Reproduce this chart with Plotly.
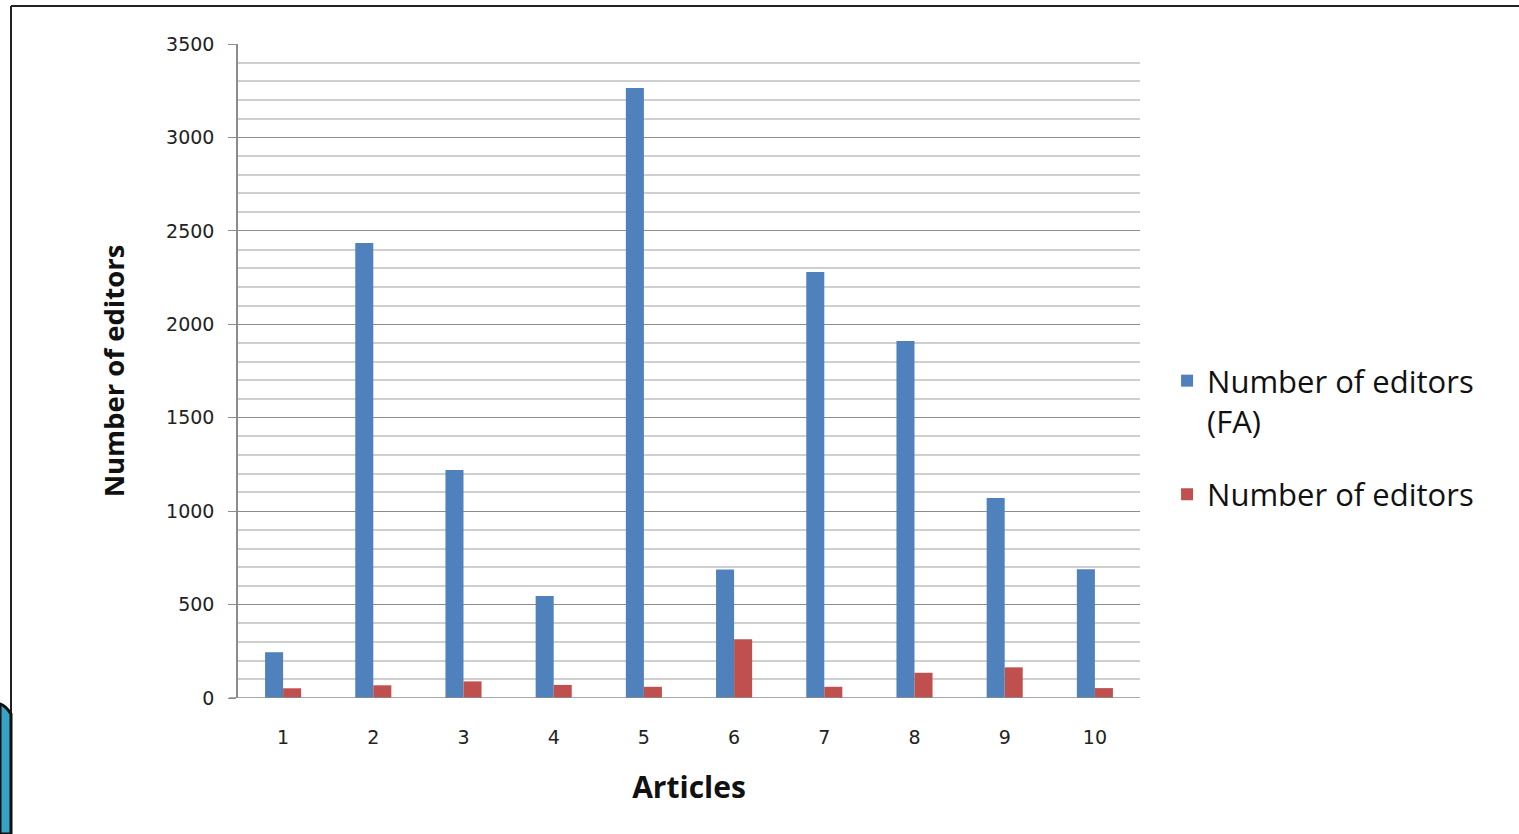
import plotly.graph_objects as go

# Article numbers and editor counts
articles = ["1", "2", "3", "4", "5", "6", "7", "8", "9", "10"]
editors_fa = [245, 2435, 1220, 546, 3264, 688, 2280, 1910, 1070, 689]
editors = [52, 68, 89, 70, 60, 314, 60, 135, 164, 53]

blue = "#4f81bd"
red = "#c0504d"
axis_gray = "#8c8c8c"

fig = go.Figure()
fig.add_trace(go.Bar(x=articles, y=editors_fa, name="Number of editors<br>(FA)",
                     legendgroup="fa", marker=dict(color=blue, line=dict(width=0))))
fig.add_trace(go.Bar(x=articles, y=editors, name="Number of editors",
                     legendgroup="all", marker=dict(color=red, line=dict(width=0))))

W, H = 1519, 834
L, R, T, B = 238, 379, 44, 136
plot_w, plot_h = W - L - R, H - T - B

fig.update_layout(
    width=W, height=H,
    margin=dict(l=L, r=R, t=T, b=B),
    paper_bgcolor="white", plot_bgcolor="white",
    barmode="group", bargap=0.6, bargroupgap=0,
    font=dict(family="DejaVu Sans", color="#222"),
    xaxis=dict(
        type="category",
        showgrid=False, zeroline=False,
        showline=False,
        ticks="", tickfont=dict(size=19, family="DejaVu Sans", color="#222"),
        ticklabelstandoff=26,
        title=dict(text="<b>Articles</b>", font=dict(size=30, family="Open Sans", color="#111"),
                   standoff=29),
    ),
    yaxis=dict(
        range=[0, 3500], dtick=500,
        showgrid=True, gridcolor=axis_gray, gridwidth=1,
        minor=dict(dtick=100, showgrid=True, gridcolor="#cfcfcf", gridwidth=1.5),
        zeroline=False,
        showline=True, linecolor=axis_gray, linewidth=1.5,
        ticks="outside", ticklen=8, tickcolor=axis_gray,
        tickfont=dict(size=19, family="DejaVu Sans", color="#222"),
        ticklabelstandoff=10,
        title=dict(text="<b>Number of editors</b>", font=dict(size=27.5, family="Open Sans", color="#111"),
                   standoff=33),
    ),
    legend=dict(
        x=1.03, y=(698 - 354) / plot_h, xanchor="left", yanchor="top",
        font=dict(size=31, family="Open Sans", color="#111"),
        valign="top", tracegroupgap=30,
        itemwidth=30,
    ),
    showlegend=True,
)

# Zero baseline drawn across the plot and a little past the axis
fig.add_shape(type="line", xref="paper", yref="y", x0=-9 / plot_w, x1=1, y0=0, y1=0,
              line=dict(color=axis_gray, width=1.5))

# Pixel -> paper coordinate helpers for the slide frame
px = lambda v: (v - L) / plot_w
py = lambda v: (H - B - v) / plot_h

# Slide frame: top and left border lines
fig.add_shape(type="line", xref="paper", yref="paper",
              x0=px(11), x1=px(W), y0=py(6), y1=py(6),
              line=dict(color="#222", width=2))
fig.add_shape(type="line", xref="paper", yref="paper",
              x0=px(11), x1=px(11), y0=py(6), y1=py(H),
              line=dict(color="#222", width=2))
# Corner ornament at the lower left
fig.add_shape(type="path", xref="paper", yref="paper",
              path=(f"M {px(0)},{py(704)} Q {px(6)},{py(706)} {px(11)},{py(714)} "
                    f"L {px(11)},{py(H)} L {px(0)},{py(H)} Z"),
              fillcolor="#36a3c4", line=dict(color="#111", width=3))

fig.write_html("out.html")
